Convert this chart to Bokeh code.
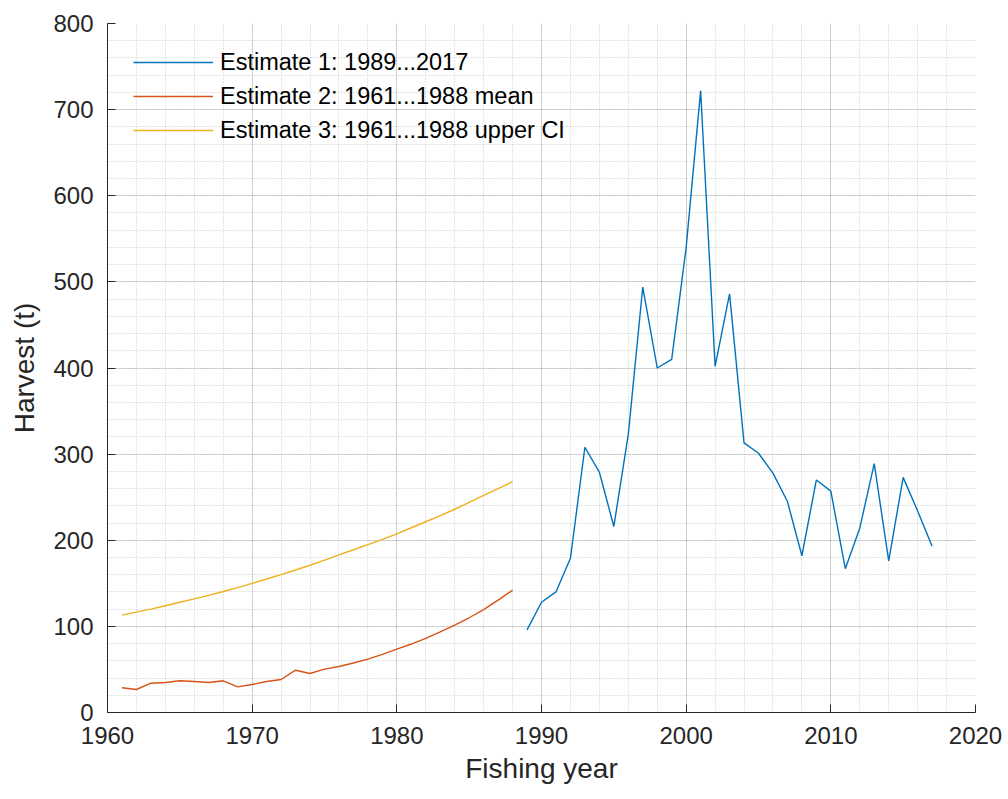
from bokeh.plotting import figure
from bokeh.models import SingleIntervalTicker, Range1d
from bokeh.embed import file_html
from bokeh.resources import INLINE

# Harvest estimates (t) by fishing year
years_1 = list(range(1989, 2018))
estimate_1 = [96, 128, 140, 179, 308, 279, 216, 323, 494, 400,
              410, 540, 722, 402, 486, 313, 301, 278, 245, 182,
              270, 257, 167, 214, 289, 176, 273, 234, 193]

years_2 = list(range(1961, 1989))
estimate_2 = [28.7, 26.7, 34, 34.8, 36.8, 36, 34.8, 36.8, 29.8, 32.5,
              36, 38.3, 49.1, 45.3, 50.3, 53.4, 57.5, 62, 67.5, 73.5,
              79.5, 86, 93.5, 101.5, 110, 119.5, 130.5, 142]

estimate_3 = [113, 116.5, 120, 124, 128, 132, 136, 140.5, 145, 150,
              155, 160, 165.5, 171, 177, 183, 189, 195, 201, 207.5,
              214.5, 221.5, 228.5, 236, 244, 252, 260, 268]

labels = ["Estimate 1: 1989...2017",
          "Estimate 2: 1961...1988 mean",
          "Estimate 3: 1961...1988 upper CI"]
colors = ["#0072BD", "#D95319", "#EDB120"]

FONT = "Liberation Sans"
INK = "#262626"

p = figure(width=1008, height=799, output_backend="svg", toolbar_location=None,
           x_range=Range1d(1960, 2020), y_range=Range1d(0, 800),
           min_border_left=107, min_border_right=33,
           min_border_top=23, min_border_bottom=87)
p.outline_line_color = None
p.background_fill_color = "white"

p.line(years_1, estimate_1, color=colors[0], line_width=1.4, legend_label=labels[0])
p.line(years_2, estimate_2, color=colors[1], line_width=1.4, legend_label=labels[1])
p.line(years_2, estimate_3, color=colors[2], line_width=1.4, legend_label=labels[2])

p.xaxis.ticker = SingleIntervalTicker(interval=10, num_minor_ticks=5)
p.yaxis.ticker = SingleIntervalTicker(interval=100, num_minor_ticks=5)

for ax in (p.xaxis[0], p.yaxis[0]):
    ax.axis_line_color = INK
    ax.axis_line_width = 1
    ax.major_tick_line_color = INK
    ax.major_tick_in = 8
    ax.major_tick_out = 0
    ax.minor_tick_in = 0
    ax.minor_tick_out = 0
    ax.major_label_text_font = FONT
    ax.major_label_text_font_size = "24px"
    ax.major_label_text_color = INK
    ax.axis_label_text_font = FONT
    ax.axis_label_text_font_size = "28px"
    ax.axis_label_text_font_style = "normal"
    ax.axis_label_text_color = INK
    ax.major_label_standoff = 14

p.xaxis.axis_label = "Fishing year"
p.yaxis.axis_label = "Harvest (t)"
p.xaxis.axis_label_standoff = 6
p.yaxis.axis_label_standoff = 10

for g in (p.xgrid[0], p.ygrid[0]):
    g.grid_line_color = INK
    g.grid_line_alpha = 0.15
    g.grid_line_width = 1
    g.minor_grid_line_color = INK
    g.minor_grid_line_alpha = 0.25
    g.minor_grid_line_dash = "1 2"
    g.minor_grid_line_width = 1

lg = p.legend[0]
lg.location = (26, 565)
lg.margin = 0
lg.padding = 0
lg.border_line_color = None
lg.background_fill_alpha = 0
lg.glyph_width = 80
lg.glyph_height = 34
lg.label_height = 34
lg.spacing = 0
lg.label_standoff = 7
lg.label_text_font = FONT
lg.label_text_font_size = "23.5px"
lg.label_text_color = "black"

open("out.html", "w").write(file_html(p, INLINE))
